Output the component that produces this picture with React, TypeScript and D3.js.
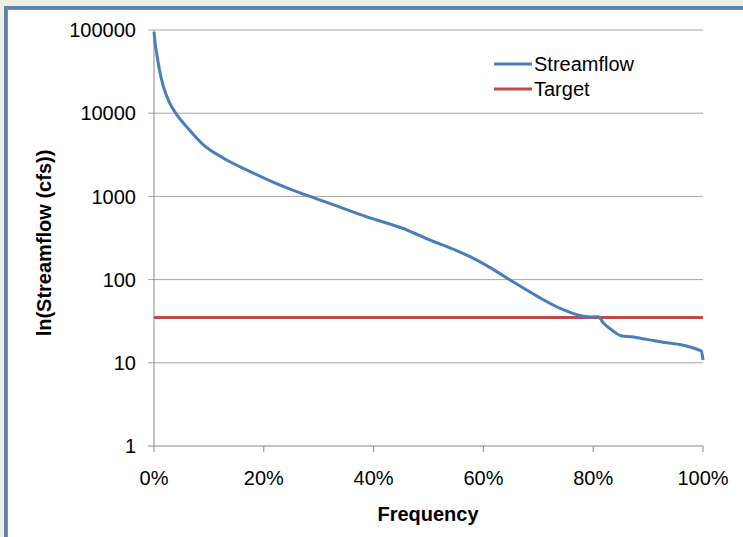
import React from "react";
import * as d3 from "d3";

const freqPct = [0, 0.2, 0.5, 1, 1.7, 2.8, 4.1, 6, 9, 13, 17.5, 22, 26.6, 28.4, 33, 38.7, 40.6, 45, 50.9, 55, 58.2, 62, 65.4, 70, 74, 77.6, 79.5, 80.9, 81.9, 83.5, 85.2, 87, 90, 93.4, 96, 99.2, 99.7, 100];
const flow = [95000, 70000, 52000, 33000, 21000, 13500, 9700, 6800, 4150, 2800, 1990, 1450, 1100, 1000, 780, 570, 520, 420, 287, 225, 180, 130, 94, 62, 45, 37, 35.5, 35.8, 29.9, 24.5, 21, 20.5, 19, 17.4, 16.5, 14.3, 13.8, 10.8];
const targetValue = 35;
const yTicks = [1, 10, 100, 1000, 10000, 100000];
const xTicks = [0, 20, 40, 60, 80, 100];
const seriesNames = ["Streamflow", "Target"];

export default function App() {
  const W = 743, H = 537;
  const x = d3.scaleLinear().domain([0, 100]).range([154, 703]);
  const y = d3.scaleLog().domain([1, 100000]).range([446, 30]);
  const pts = freqPct.map((f, i) => [f, flow[i]] as [number, number]);
  const line = d3.line<[number, number]>().x(d => x(d[0])).y(d => y(d[1])).curve(d3.curveMonotoneX);
  const font = "Arial, 'Liberation Sans', sans-serif";
  const blue = "#4a7ebb";
  const red = "#be4b48";
  return (
    <svg width={W} height={H} style={{ position: "absolute", left: 0, top: 0 }} fontFamily={font}>
      <rect x={0} y={0} width={W} height={H} fill="#eef0e4" />
      <rect x={4} y={6} width={W - 4} height={H - 6} fill="#5b83b0" />
      <rect x={7} y={9} width={W - 7} height={H - 9} fill="#8a8e94" />
      <rect x={8} y={10} width={W - 8} height={H - 10} fill="#ffffff" />
      {yTicks.map(t => (
        <g key={t}>
          <line x1={148} x2={703} y1={y(t)} y2={y(t)} stroke={t === 1 ? "#868686" : "#a6a6a6"} strokeWidth={1} />
          <text x={136} y={y(t)} dy="0.36em" textAnchor="end" fontSize={20} fill="#000">{t}</text>
        </g>
      ))}
      <line x1={154} x2={154} y1={30} y2={446} stroke="#868686" strokeWidth={1} />
      {xTicks.map(t => (
        <g key={t}>
          <line x1={x(t)} x2={x(t)} y1={446} y2={452} stroke="#868686" strokeWidth={1} />
          <text x={x(t)} y={485} textAnchor="middle" fontSize={20} fill="#000">{t}%</text>
        </g>
      ))}
      <line x1={x(0)} x2={x(100)} y1={y(targetValue)} y2={y(targetValue)} stroke={red} strokeWidth={3} />
      <path d={line(pts) || ""} fill="none" stroke={blue} strokeWidth={3} strokeLinejoin="round" />
      {seriesNames.map((n, i) => (
        <g key={n}>
          <line x1={494} x2={532} y1={64 + i * 25} y2={64 + i * 25} stroke={i === 0 ? blue : red} strokeWidth={3} />
          <text x={534} y={64 + i * 25} dy="0.36em" fontSize={20} fill="#000">{n}</text>
        </g>
      ))}
      <text x={428} y={521} textAnchor="middle" fontSize={20} fontWeight="bold">Frequency</text>
      <text transform={`translate(51,243) rotate(-90)`} textAnchor="middle" fontSize={20} fontWeight="bold">ln(Streamflow (cfs))</text>
    </svg>
  );
}
